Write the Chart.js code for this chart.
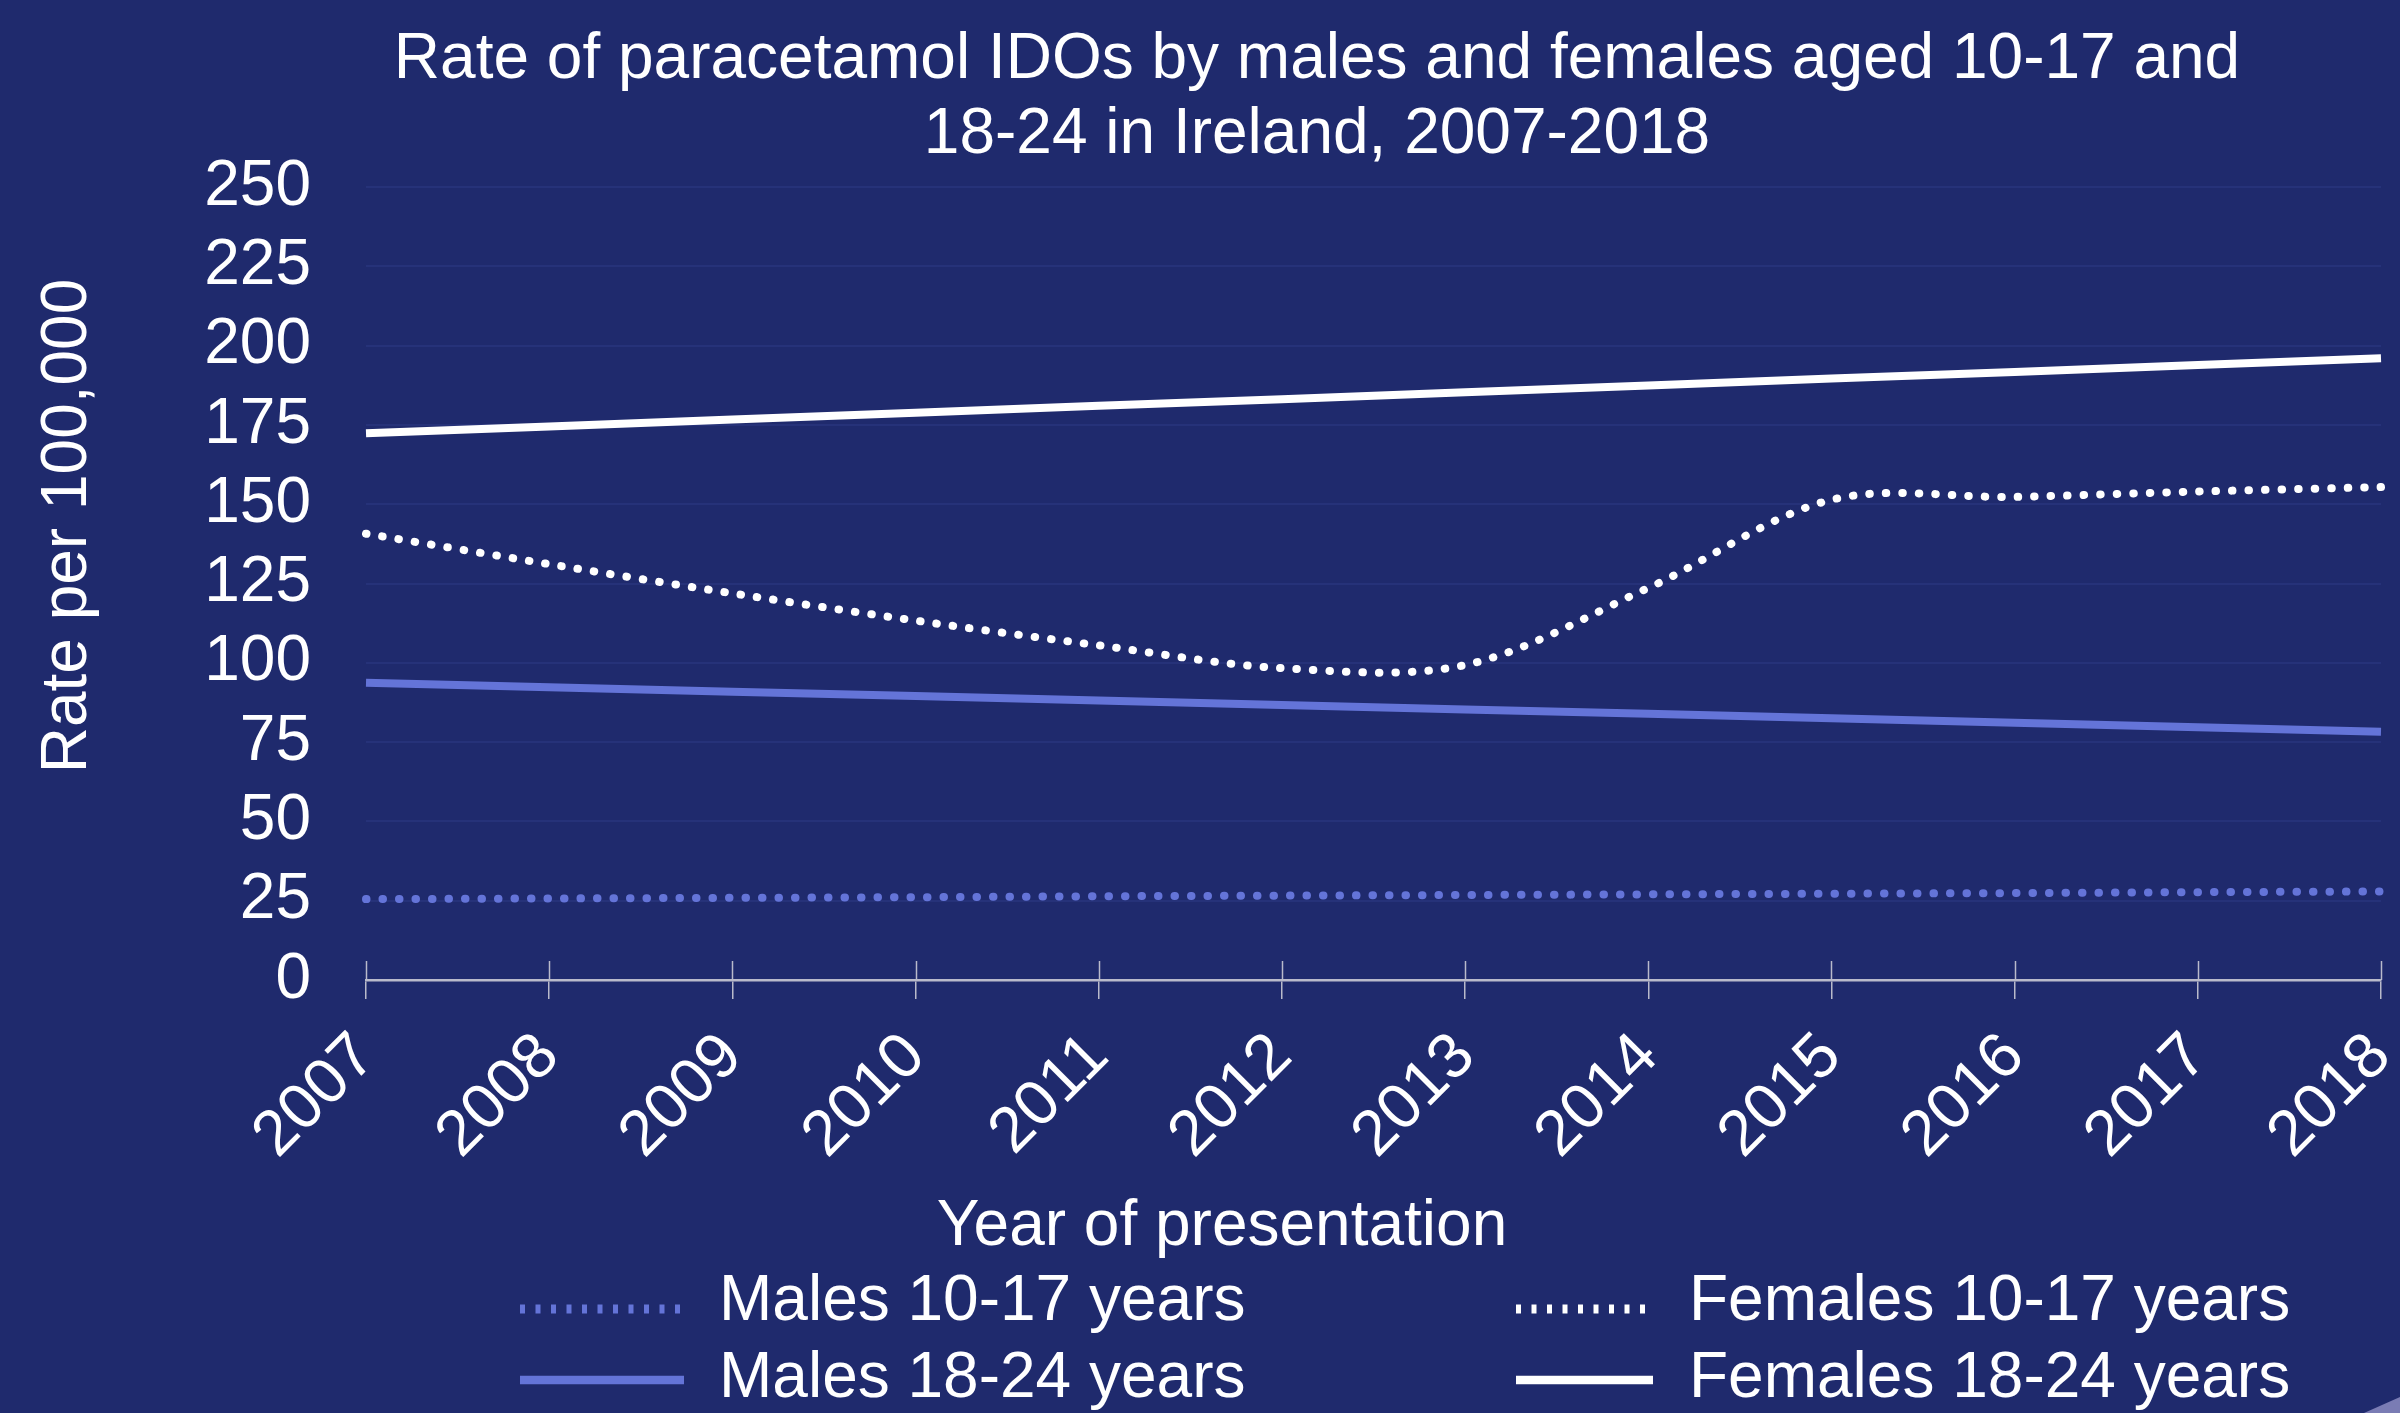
<!DOCTYPE html>
<html>
<head>
<meta charset="utf-8">
<script src="https://cdn.jsdelivr.net/npm/chart.js@4.4.1/dist/chart.umd.min.js"></script>
<style>
html,body{margin:0;padding:0;background:#1f2a6d;}
canvas{display:block;}
</style>
</head>
<body>
<canvas id="c" width="2400" height="1413"></canvas>
<script>
// ---- data ----
const years = ['2007','2008','2009','2010','2011','2012','2013','2014','2015','2016','2017','2018'];
const males1017   = [25.5, 25.7, 25.9, 26.1, 26.4, 26.6, 26.8, 27.0, 27.2, 27.4, 27.7, 27.9];
const females1017 = [140.7, 131.1, 121.9, 113.3, 105.5, 98.3, 99.3, 123.6, 151.4, 152.3, 154.0, 155.4];
const males1824   = [93.7, 92.3, 90.9, 89.5, 88.1, 86.7, 85.3, 83.9, 82.5, 81.1, 79.7, 78.3];
const females1824 = [172.4, 174.5, 176.7, 178.8, 181.0, 183.1, 185.3, 187.4, 189.6, 191.7, 193.9, 196.0];
const seriesNames = ['Males 10-17 years', 'Females 10-17 years', 'Males 18-24 years', 'Females 18-24 years'];
const titleLines = ['Rate of paracetamol IDOs by males and females aged 10-17 and', '18-24 in Ireland, 2007-2018'];
const yAxisTitle = 'Rate per 100,000';
const xAxisTitle = 'Year of presentation';
const yMin = 0, yMax = 250, yStep = 25;

// ---- styles ----
const BG = '#1f2a6d';
const GRID = '#263279';
const AXIS = '#b9bacb';
const BLUE = '#6474d8';
const WHITE = '#ffffff';
const FONT = '"Liberation Sans", Arial, Helvetica, sans-serif';

const decor = {
  id: 'decor',
  beforeDraw(chart) {
    const c = chart.ctx;
    c.save();
    c.fillStyle = BG;
    c.fillRect(0, 0, chart.width, chart.height);
    c.restore();
  },
  afterDraw(chart) {
    const c = chart.ctx;
    const a = chart.chartArea;
    const xs = chart.scales.x;
    c.save();
    // tick marks above axis
    c.strokeStyle = AXIS;
    c.lineWidth = 1.5;
    for (let i = 0; i < xs.ticks.length; i++) {
      const x = Math.round(xs.getPixelForTick(i)) + 0.5;
      c.beginPath();
      c.moveTo(x, a.bottom - 19);
      c.lineTo(x, a.bottom);
      c.stroke();
    }
    // title
    c.fillStyle = WHITE;
    c.font = '64px ' + FONT;
    c.textAlign = 'center';
    c.textBaseline = 'alphabetic';
    c.fillText(titleLines[0], 1317, 78);
    c.fillText(titleLines[1], 1317, 153);
    // x axis title
    c.fillText(xAxisTitle, 1222, 1245);
    // y axis title
    c.save();
    c.translate(86, 526);
    c.rotate(-Math.PI / 2);
    c.fillText(yAxisTitle, 0, 0);
    c.restore();
    // legend
    const cols = [{sx: 520, sw: 164, tx: 719}, {sx: 1516, sw: 137, tx: 1689}];
    const rows = [{sy: 1309, ty: 1320}, {sy: 1380, ty: 1397}];
    chart.data.datasets.forEach((ds, i) => {
      const col = cols[i % 2], row = rows[Math.floor(i / 2)];
      c.save();
      c.strokeStyle = ds.borderColor;
      if (ds.borderDash && ds.borderDash.length) {
        c.lineWidth = 9;
        c.setLineDash([5, 10.5]);
        c.lineCap = 'butt';
      } else {
        c.lineWidth = 8.5;
        c.setLineDash([]);
        c.lineCap = 'butt';
      }
      c.beginPath();
      c.moveTo(col.sx, row.sy);
      c.lineTo(col.sx + col.sw, row.sy);
      c.stroke();
      c.restore();
      c.fillStyle = WHITE;
      c.textAlign = 'left';
      c.fillText(ds.label, col.tx, row.ty);
    });
    // corner mark
    c.fillStyle = '#7a7cb4';
    c.beginPath();
    c.moveTo(2364, 1413);
    c.lineTo(2400, 1397);
    c.lineTo(2400, 1413);
    c.closePath();
    c.fill();
    c.restore();
  }
};

const dotted = {borderDash: [0.5, 16], borderCapStyle: 'round', borderWidth: 8};
const ctx = document.getElementById('c').getContext('2d');
new Chart(ctx, {
  type: 'line',
  data: {
    labels: years,
    datasets: [
      Object.assign({label: seriesNames[0], data: males1017, borderColor: BLUE, tension: 0}, dotted),
      Object.assign({label: seriesNames[1], data: females1017, borderColor: WHITE, tension: 0.33}, dotted),
      {label: seriesNames[2], data: males1824, borderColor: BLUE, borderWidth: 8, tension: 0},
      {label: seriesNames[3], data: females1824, borderColor: WHITE, borderWidth: 8, tension: 0}
    ]
  },
  options: {
    responsive: false,
    animation: false,
    devicePixelRatio: 1,
    elements: {point: {radius: 0, hoverRadius: 0}, line: {fill: false}},
    layout: {padding: {top: 187, right: 19, bottom: 0, left: 0}},
    plugins: {legend: {display: false}, title: {display: false}, tooltip: {enabled: false}},
    events: [],
    scales: {
      x: {
        type: 'category',
        offset: false,
        grid: {display: true, drawOnChartArea: false, drawTicks: true, tickLength: 19, color: AXIS, lineWidth: 1.5},
        border: {display: true, color: AXIS, width: 2.5},
        ticks: {color: WHITE, font: {family: FONT, size: 64}, maxRotation: 45, minRotation: 45, autoSkip: false, padding: 20},
        afterFit(s) { s.height = 433; s.paddingLeft = 0; s.paddingRight = 0; }
      },
      y: {
        min: yMin, max: yMax,
        grid: {color: (c) => c.tick && c.tick.value === 0 ? 'rgba(0,0,0,0)' : GRID, lineWidth: 2, drawTicks: false},
        border: {display: false},
        ticks: {stepSize: yStep, autoSkip: false, color: WHITE, font: {family: FONT, size: 64}, padding: 55},
        afterFit(s) { s.width = 366; s.paddingTop = 0; s.paddingBottom = 0; }
      }
    }
  },
  plugins: [decor]
});
</script>
</body>
</html>
